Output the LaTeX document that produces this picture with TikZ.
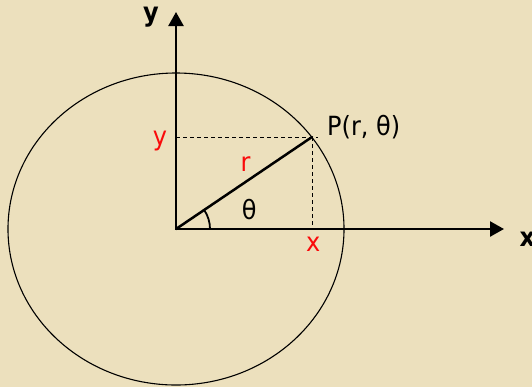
\documentclass[tikz,border=0pt]{standalone}
\usepackage{fontspec}
\setmainfont{DejaVu Sans}
\usetikzlibrary{arrows.meta}
\definecolor{parch}{RGB}{236,224,189}
\definecolor{lblred}{RGB}{250,10,10}
\newcommand\vstr[1]{\scalebox{1}[1.1]{#1}}
\begin{document}
\begin{tikzpicture}[x=1bp,y=-1bp,
  axis/.style={line width=2.4bp, -{Triangle[length=14bp,width=15bp]}},
  radius line/.style={line width=2.5bp},
  guide/.style={line width=1bp, dash pattern=on 4bp off 3bp},
  lbl/.style={inner sep=0pt, anchor=base, font=\fontsize{24bp}{28bp}\selectfont},
  redlbl/.style={lbl, text=lblred},
  axlbl/.style={lbl, font=\fontsize{24bp}{28bp}\selectfont\bfseries}]
\fill[parch] (0,0) rectangle (532,387);
\useasboundingbox (0,0) rectangle (532,387);
\coordinate (O) at (176,229);
\coordinate (P) at (312,137);
\coordinate (Pe) at (318,137);
\coordinate (Xt) at (504,229);
\coordinate (Yt) at (176,12);
\coordinate (A) at (210,229);
% circle
\draw[line width=1.1bp] (O) ellipse [x radius=168bp, y radius=156bp];
% guides
\draw[guide] (O|-P) -- (Pe);
\draw[guide] (P) -- (P|-O);
% axes
\draw[axis] (O) -- (Xt);
\draw[axis] (O) -- (Yt);
% radius
\draw[radius line, line cap=round] (O) -- (P);
% angle arc
\draw[line width=1.8bp] (A) arc[start angle=0, end angle=34, radius=34bp];
% labels
\node[axlbl] (ly) at (151,21.5) {\vstr{y}};
\node[axlbl, anchor=base west] (lx) at (519.5,246.7) {\vstr{x}};
\node[redlbl] (ry) at (160,145) {\vstr{y}};
\node[redlbl] (rx) at (313.3,251) {\vstr{x}};
\node[redlbl] (rr) at (245.5,171.7) {\vstr{r}};
\node[lbl] (th) at (249.3,219.5) {\vstr{θ}};
\node[lbl, anchor=base west] (lp) at (327,135.7) {\vstr{P(r, θ)}};
\end{tikzpicture}
\end{document}
